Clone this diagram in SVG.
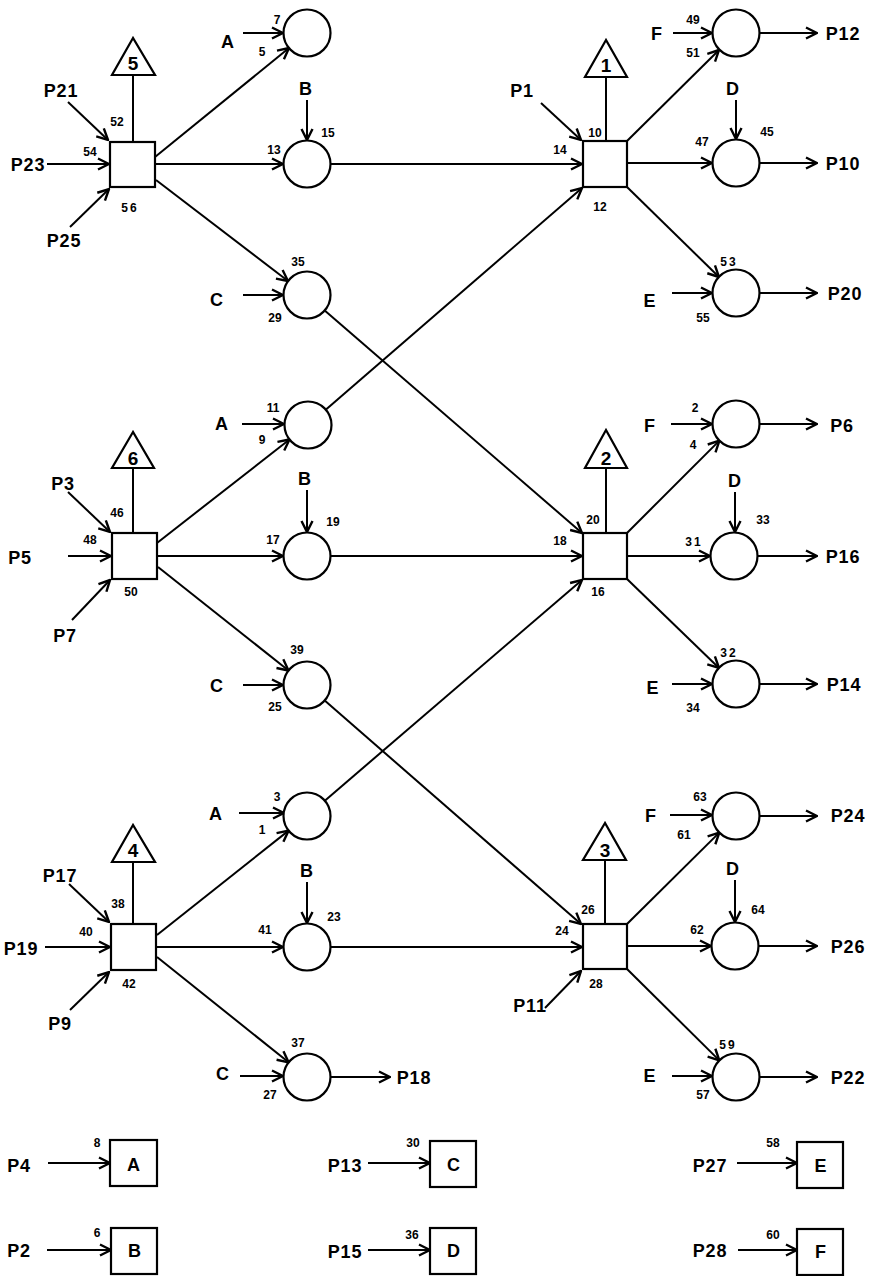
<svg xmlns="http://www.w3.org/2000/svg" width="869" height="1276" viewBox="0 0 869 1276">
<style>
.ln{stroke:#000;stroke-width:2;fill:none}
.a{marker-end:url(#ah)}
.nd{fill:#fff;stroke:#000;stroke-width:2.2}
text{font-family:"Liberation Sans",Arial,sans-serif;text-anchor:middle;fill:#000}
.b{font-size:18px;font-weight:bold;letter-spacing:0.8px}
.s{font-size:12px;font-weight:bold}
.w{letter-spacing:2px}
.t{font-size:19px;font-weight:bold}
</style>
<defs>
<marker id="ah" markerUnits="userSpaceOnUse" markerWidth="14" markerHeight="14" viewBox="0 0 14 14" refX="13" refY="7" orient="auto">
<path d="M2,1.5 L13,7 L2,12.5" fill="none" stroke="#000" stroke-width="2.4"/>
</marker>
</defs>
<rect x="0" y="0" width="869" height="1276" fill="#fff"/>

<g id="connectors">
<!-- top-left block -->
<line class="ln" x1="133" y1="75" x2="133" y2="142"/>
<line class="ln a" x1="68" y1="102" x2="108" y2="140"/>
<line class="ln a" x1="47" y1="164" x2="109" y2="164"/>
<line class="ln a" x1="70" y1="227" x2="109" y2="189"/>
<line class="ln a" x1="155" y1="157" x2="289" y2="48"/>
<line class="ln a" x1="155" y1="164" x2="283" y2="164"/>
<line class="ln a" x1="156" y1="180" x2="288" y2="281"/>
<line class="ln a" x1="243" y1="33" x2="283" y2="33"/>
<line class="ln a" x1="307" y1="100" x2="307" y2="140"/>
<line class="ln a" x1="243" y1="295" x2="283" y2="295"/>
<!-- top-right block -->
<line class="ln" x1="606" y1="77" x2="606" y2="141"/>
<line class="ln a" x1="541" y1="103" x2="581" y2="140"/>
<line class="ln a" x1="330.5" y1="164" x2="582" y2="164"/>
<line class="ln a" x1="326" y1="409.5" x2="582" y2="188"/>
<line class="ln a" x1="627" y1="141" x2="719" y2="50"/>
<line class="ln a" x1="627" y1="163" x2="712" y2="163"/>
<line class="ln a" x1="627" y1="187" x2="719" y2="277"/>
<line class="ln a" x1="673" y1="33" x2="712" y2="33"/>
<line class="ln a" x1="736" y1="100" x2="736" y2="139"/>
<line class="ln a" x1="672" y1="293" x2="712" y2="293"/>
<line class="ln a" x1="759.5" y1="33" x2="817" y2="33"/>
<line class="ln a" x1="759.5" y1="163" x2="817" y2="163"/>
<line class="ln a" x1="759.5" y1="293" x2="817" y2="293"/>
<!-- middle-left block -->
<line class="ln" x1="133" y1="468" x2="133" y2="533"/>
<line class="ln a" x1="68" y1="492" x2="110" y2="532"/>
<line class="ln a" x1="68" y1="556" x2="111" y2="556"/>
<line class="ln a" x1="72" y1="620" x2="110" y2="580"/>
<line class="ln a" x1="157" y1="543" x2="289.5" y2="439.5"/>
<line class="ln a" x1="157" y1="556" x2="283" y2="556"/>
<line class="ln a" x1="158" y1="567" x2="288.5" y2="670.5"/>
<line class="ln a" x1="242" y1="424" x2="284" y2="424"/>
<line class="ln a" x1="307" y1="490" x2="307" y2="532"/>
<line class="ln a" x1="243" y1="685" x2="283" y2="685"/>
<!-- middle crossings -->
<line class="ln a" x1="324.7" y1="310.4" x2="582" y2="533"/>
<line class="ln a" x1="331" y1="556" x2="582" y2="556"/>
<line class="ln a" x1="324.8" y1="800.7" x2="582" y2="580"/>
<!-- middle-right block -->
<line class="ln" x1="606" y1="468" x2="606" y2="533"/>
<line class="ln a" x1="627" y1="533" x2="719.4" y2="440.6"/>
<line class="ln a" x1="627" y1="556" x2="710" y2="556"/>
<line class="ln a" x1="627" y1="579" x2="719" y2="668"/>
<line class="ln a" x1="671" y1="424" x2="712" y2="424"/>
<line class="ln a" x1="735" y1="492" x2="735" y2="532"/>
<line class="ln a" x1="672" y1="684" x2="712" y2="684"/>
<line class="ln a" x1="760" y1="424" x2="817" y2="424"/>
<line class="ln a" x1="758" y1="556" x2="817" y2="556"/>
<line class="ln a" x1="760" y1="684" x2="817" y2="684"/>
<!-- bottom-left block -->
<line class="ln" x1="133" y1="862" x2="133" y2="924"/>
<line class="ln a" x1="69" y1="884" x2="109" y2="922"/>
<line class="ln a" x1="45" y1="947" x2="110" y2="947"/>
<line class="ln a" x1="70" y1="1010" x2="109" y2="972"/>
<line class="ln a" x1="157" y1="935" x2="288.6" y2="830.6"/>
<line class="ln a" x1="156" y1="947" x2="283" y2="947"/>
<line class="ln a" x1="157" y1="957" x2="288.6" y2="1062.3"/>
<line class="ln a" x1="239" y1="813" x2="284" y2="813"/>
<line class="ln a" x1="307" y1="882" x2="307" y2="923"/>
<line class="ln a" x1="240" y1="1076" x2="283" y2="1076"/>
<line class="ln a" x1="330.5" y1="1077" x2="390" y2="1077"/>
<!-- bottom crossings -->
<line class="ln a" x1="324.7" y1="700.5" x2="581" y2="924"/>
<line class="ln a" x1="330.5" y1="947" x2="582" y2="947"/>
<!-- bottom-right block -->
<line class="ln" x1="605" y1="860" x2="605" y2="924"/>
<line class="ln a" x1="545" y1="1008" x2="581" y2="971"/>
<line class="ln a" x1="627" y1="924" x2="719.3" y2="832.6"/>
<line class="ln a" x1="627" y1="946" x2="711" y2="946"/>
<line class="ln a" x1="627" y1="969" x2="719.3" y2="1060.4"/>
<line class="ln a" x1="670" y1="815" x2="712" y2="815"/>
<line class="ln a" x1="735" y1="880" x2="735" y2="922"/>
<line class="ln a" x1="672" y1="1076" x2="712" y2="1076"/>
<line class="ln a" x1="759.5" y1="816" x2="817" y2="816"/>
<line class="ln a" x1="758.5" y1="946" x2="817" y2="946"/>
<line class="ln a" x1="759.5" y1="1077" x2="817" y2="1077"/>
<!-- legend -->
<line class="ln a" x1="48" y1="1163" x2="110" y2="1163"/>
<line class="ln a" x1="47" y1="1250" x2="111" y2="1250"/>
<line class="ln a" x1="368" y1="1163" x2="430" y2="1163"/>
<line class="ln a" x1="368" y1="1250" x2="430" y2="1250"/>
<line class="ln a" x1="737" y1="1163" x2="797" y2="1163"/>
<line class="ln a" x1="738" y1="1250" x2="797" y2="1250"/>
</g>

<!-- top-left block -->
<g id="tri5"><polygon class="nd" points="133,38 112,75 155,75"/><text class="t" x="133" y="70">5</text></g>
<g id="sq5"><rect class="nd" x="110" y="142" width="45" height="45"/>
<text class="s" x="117" y="126">52</text><text class="s" x="90" y="156">54</text><text class="s w" x="130" y="212">56</text></g>
<g id="c5A"><circle class="nd" cx="307" cy="33" r="23.5"/><text class="s" x="277" y="24">7</text><text class="s" x="262" y="56">5</text></g>
<g id="c5B"><circle class="nd" cx="307" cy="164" r="23.5"/><text class="s" x="274" y="154">13</text><text class="s" x="328" y="137">15</text></g>
<g id="c5C"><circle class="nd" cx="307" cy="295" r="23.5"/><text class="s" x="298" y="266">35</text><text class="s" x="275" y="322">29</text></g>

<!-- top-right block -->
<g id="tri1"><polygon class="nd" points="606,40 585,77 627,77"/><text class="t" x="606" y="72">1</text></g>
<g id="sq1"><rect class="nd" x="583" y="141" width="44" height="46"/>
<text class="s" x="595" y="137">10</text><text class="s" x="560" y="154">14</text><text class="s" x="600" y="211">12</text></g>
<g id="c1F"><circle class="nd" cx="736" cy="33" r="23.5"/><text class="s" x="693" y="24">49</text><text class="s" x="693" y="57">51</text></g>
<g id="c1D"><circle class="nd" cx="736" cy="163" r="23.5"/><text class="s" x="767" y="136">45</text><text class="s" x="702" y="146">47</text></g>
<g id="c1E"><circle class="nd" cx="736" cy="293" r="23.5"/><text class="s w" x="729" y="266">53</text><text class="s" x="703" y="322">55</text></g>

<!-- middle-left block -->
<g id="tri6"><polygon class="nd" points="133,432 112,468 154,468"/><text class="t" x="133" y="465">6</text></g>
<g id="sq6"><rect class="nd" x="112" y="533" width="45" height="46"/>
<text class="s" x="117" y="517">46</text><text class="s" x="90" y="544">48</text><text class="s" x="131" y="596">50</text></g>
<g id="c6A"><circle class="nd" cx="308" cy="425" r="23.5"/><text class="s" x="273" y="412">11</text><text class="s" x="262" y="444">9</text></g>
<g id="c6B"><circle class="nd" cx="307" cy="556" r="23.5"/><text class="s" x="273" y="544">17</text><text class="s" x="333" y="526">19</text></g>
<g id="c6C"><circle class="nd" cx="307" cy="685" r="23.5"/><text class="s" x="297" y="654">39</text><text class="s" x="275" y="711">25</text></g>

<!-- middle-right block -->
<g id="tri2"><polygon class="nd" points="606,430 585,468 627,468"/><text class="t" x="606" y="465">2</text></g>
<g id="sq2"><rect class="nd" x="583" y="533" width="44" height="46"/>
<text class="s" x="593" y="524">20</text><text class="s" x="560" y="545">18</text><text class="s" x="598" y="596">16</text></g>
<g id="c2F"><circle class="nd" cx="736" cy="424" r="23.5"/><text class="s" x="695" y="412">2</text><text class="s" x="693" y="449">4</text></g>
<g id="c2D"><circle class="nd" cx="734" cy="556" r="23.5"/><text class="s" x="763" y="524">33</text><text class="s w" x="694" y="546">31</text></g>
<g id="c2E"><circle class="nd" cx="736" cy="684" r="23.5"/><text class="s w" x="729" y="657">32</text><text class="s" x="693" y="712">34</text></g>

<!-- bottom-left block -->
<g id="tri4"><polygon class="nd" points="133,825 112,862 155,862"/><text class="t" x="133" y="857">4</text></g>
<g id="sq4"><rect class="nd" x="111" y="924" width="45" height="46"/>
<text class="s" x="118" y="908">38</text><text class="s" x="86" y="936">40</text><text class="s" x="129" y="988">42</text></g>
<g id="c4A"><circle class="nd" cx="307" cy="816" r="23.5"/><text class="s" x="277" y="801">3</text><text class="s" x="262" y="834">1</text></g>
<g id="c4B"><circle class="nd" cx="307" cy="947" r="23.5"/><text class="s" x="265" y="934">41</text><text class="s" x="334" y="921">23</text></g>
<g id="c4C"><circle class="nd" cx="307" cy="1077" r="23.5"/><text class="s" x="298" y="1047">37</text><text class="s" x="270" y="1099">27</text></g>

<!-- bottom-right block -->
<g id="tri3"><polygon class="nd" points="605,823 583,860 626,860"/><text class="t" x="605" y="857">3</text></g>
<g id="sq3"><rect class="nd" x="583" y="924" width="44" height="45"/>
<text class="s" x="588" y="914">26</text><text class="s" x="562" y="935">24</text><text class="s" x="596" y="988">28</text></g>
<g id="c3F"><circle class="nd" cx="736" cy="816" r="23.5"/><text class="s" x="700" y="801">63</text><text class="s" x="684" y="839">61</text></g>
<g id="c3D"><circle class="nd" cx="735" cy="946" r="23.5"/><text class="s" x="697" y="934">62</text><text class="s" x="758" y="914">64</text></g>
<g id="c3E"><circle class="nd" cx="736" cy="1077" r="23.5"/><text class="s w" x="728" y="1049">59</text><text class="s" x="703" y="1099">57</text></g>

<!-- legend boxes -->
<g id="boxA"><rect class="nd" x="110" y="1140" width="47" height="46"/><text class="b" x="134" y="1171">A</text><text class="s" x="97" y="1147">8</text></g>
<g id="boxB"><rect class="nd" x="111" y="1228" width="46" height="46"/><text class="b" x="135" y="1257">B</text><text class="s" x="97" y="1237">6</text></g>
<g id="boxC"><rect class="nd" x="430" y="1141" width="46" height="46"/><text class="b" x="454" y="1171">C</text><text class="s" x="413" y="1147">30</text></g>
<g id="boxD"><rect class="nd" x="430" y="1228" width="46" height="46"/><text class="b" x="454" y="1257">D</text><text class="s" x="412" y="1239">36</text></g>
<g id="boxE"><rect class="nd" x="797" y="1142" width="46" height="46"/><text class="b" x="821" y="1172">E</text><text class="s" x="773" y="1147">58</text></g>
<g id="boxF"><rect class="nd" x="797" y="1229" width="46" height="46"/><text class="b" x="821" y="1258">F</text><text class="s" x="773" y="1239">60</text></g>

<g id="labels">
<text class="b" x="61" y="97">P21</text>
<text class="b" x="28" y="171">P23</text>
<text class="b" x="64" y="247">P25</text>
<text class="b" x="228" y="48">A</text>
<text class="b" x="306" y="95">B</text>
<text class="b" x="217" y="306">C</text>
<text class="b" x="522" y="97">P1</text>
<text class="b" x="657" y="40">F</text>
<text class="b" x="733" y="95">D</text>
<text class="b" x="650" y="307">E</text>
<text class="b" x="843" y="40">P12</text>
<text class="b" x="843" y="170">P10</text>
<text class="b" x="845" y="300">P20</text>
<text class="b" x="63" y="490">P3</text>
<text class="b" x="20" y="564">P5</text>
<text class="b" x="65" y="642">P7</text>
<text class="b" x="222" y="430">A</text>
<text class="b" x="305" y="485">B</text>
<text class="b" x="217" y="692">C</text>
<text class="b" x="650" y="432">F</text>
<text class="b" x="735" y="487">D</text>
<text class="b" x="653" y="694">E</text>
<text class="b" x="842" y="432">P6</text>
<text class="b" x="843" y="563">P16</text>
<text class="b" x="844" y="691">P14</text>
<text class="b" x="60" y="882">P17</text>
<text class="b" x="21" y="955">P19</text>
<text class="b" x="60" y="1030">P9</text>
<text class="b" x="216" y="820">A</text>
<text class="b" x="307" y="877">B</text>
<text class="b" x="223" y="1080">C</text>
<text class="b" x="414" y="1084">P18</text>
<text class="b" x="530" y="1012">P11</text>
<text class="b" x="651" y="822">F</text>
<text class="b" x="733" y="875">D</text>
<text class="b" x="650" y="1082">E</text>
<text class="b" x="848" y="822">P24</text>
<text class="b" x="848" y="953">P26</text>
<text class="b" x="848" y="1084">P22</text>
<text class="b" x="19" y="1172">P4</text>
<text class="b" x="19" y="1257">P2</text>
<text class="b" x="345" y="1172">P13</text>
<text class="b" x="345" y="1258">P15</text>
<text class="b" x="710" y="1172">P27</text>
<text class="b" x="710" y="1257">P28</text>
</g>
</svg>
